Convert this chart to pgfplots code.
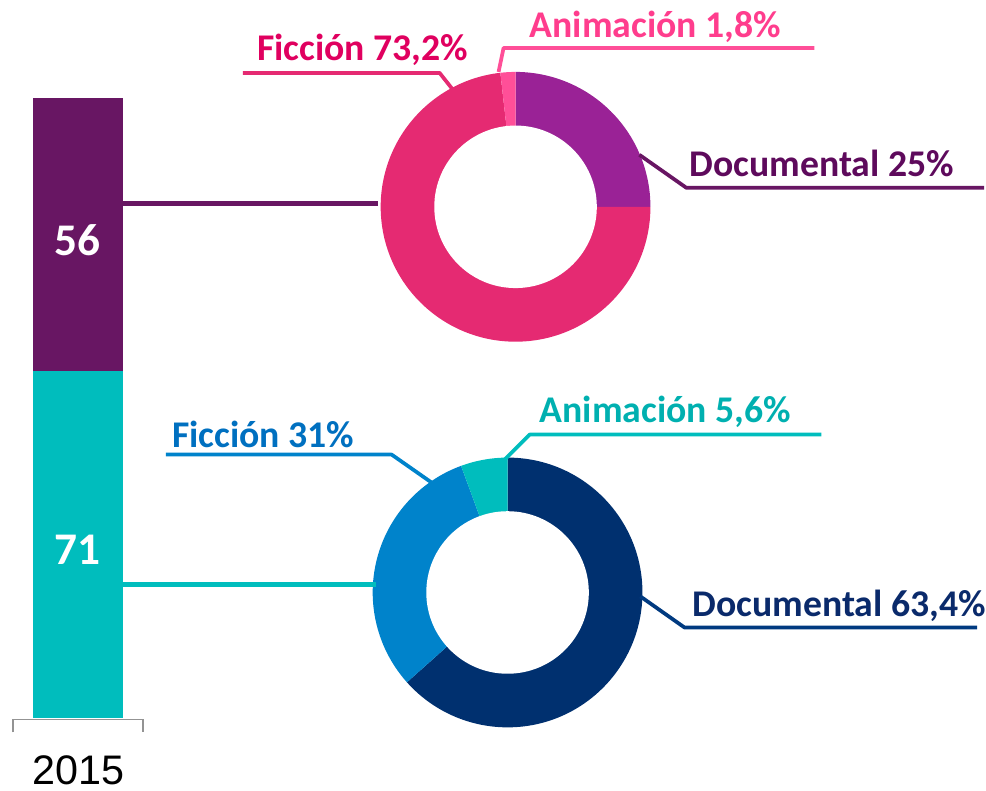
\documentclass[border=0pt]{standalone}
\usepackage{pgfplots}
\pgfplotsset{compat=1.18}
\usepackage{fontspec}
\setmainfont{Carlito}
\newfontfamily\arialfont{Liberation Sans}
\definecolor{barpurple}{HTML}{681663}
\definecolor{barteal}{HTML}{00BDBD}
\definecolor{tDoc}{HTML}{9A2296}
\definecolor{tFic}{HTML}{E52A72}
\definecolor{tAni}{HTML}{FF4F98}
\definecolor{tFicTxt}{HTML}{E0005F}
\definecolor{tAniTxt}{HTML}{FF3D8D}
\definecolor{tDocTxt}{HTML}{5E0A5C}
\definecolor{bDoc}{HTML}{00306F}
\definecolor{bFic}{HTML}{0083CB}
\definecolor{bAni}{HTML}{00BDBD}
\definecolor{bFicTxt}{HTML}{0070C0}
\definecolor{bAniTxt}{HTML}{00B0B0}
\definecolor{bDocTxt}{HTML}{0A2A6B}
\definecolor{bDocLine}{HTML}{003A80}
\newcommand\lab{\fontsize{28.3}{28.3}\selectfont\bfseries}
\begin{document}
\begin{tikzpicture}
% shares of each donut (percent)
\def\tD{25}\def\tF{73.2}\def\tA{1.8}
\def\bD{63.4}\def\bF{31}\def\bA{5.6}
\pgfmathsetmacro\ta{90}
\pgfmathsetmacro\tb{\ta-3.6*\tD}
\pgfmathsetmacro\tc{\tb-3.6*\tF}
\pgfmathsetmacro\td{\tc-3.6*\tA}
\pgfmathsetmacro\ba{90}
\pgfmathsetmacro\bb{\ba-3.6*\bD}
\pgfmathsetmacro\bc{\bb-3.6*\bF}
\pgfmathsetmacro\bd{\bc-3.6*\bA}
\def\Ro{101.25pt}
\def\Ri{61pt}
% stacked bar
\begin{axis}[x=0.75pt, y=3.66735pt, xmin=0, xmax=986, ymin=-14.724, ymax=147.04,
  hide axis, ybar stacked, bar width=90, clip=false]
\addplot[fill=barteal, draw=none] coordinates {(78,71)};
\addplot[fill=barpurple, draw=none] coordinates {(78,56)};
\end{axis}
% donuts and labels
\begin{axis}[x=0.75pt, y=0.75pt, xmin=0, xmax=986, ymin=0, ymax=791,
  hide axis, clip=false]
\path (axis cs:0,0) rectangle (axis cs:986,791);
\node[text=white, font=\fontsize{34}{34}\selectfont\bfseries] at (axis cs:78,551) {56};
\node[text=white, font=\fontsize{34}{34}\selectfont\bfseries] at (axis cs:78,241) {71};
% top donut
\fill[tDoc] (axis cs:516,584) -- ++(\ta:\Ro) arc[start angle=\ta, end angle=\tb, radius=\Ro] -- cycle;
\fill[tFic] (axis cs:516,584) -- ++(\tb:\Ro) arc[start angle=\tb, end angle=\tc, radius=\Ro] -- cycle;
\fill[tAni] (axis cs:516,584) -- ++(\tc:\Ro) arc[start angle=\tc, end angle=\td, radius=\Ro] -- cycle;
\fill[white] (axis cs:516,584) circle[radius=\Ri];
% bottom donut
\fill[bDoc] (axis cs:508,198) -- ++(\ba:\Ro) arc[start angle=\ba, end angle=\bb, radius=\Ro] -- cycle;
\fill[bFic] (axis cs:508,198) -- ++(\bb:\Ro) arc[start angle=\bb, end angle=\bc, radius=\Ro] -- cycle;
\fill[bAni] (axis cs:508,198) -- ++(\bc:\Ro) arc[start angle=\bc, end angle=\bd, radius=\Ro] -- cycle;
\fill[white] (axis cs:508,198) circle[radius=\Ri];
% connectors from bar
\draw[barpurple, line width=3.5pt] (axis cs:123,587) -- (axis cs:378,587);
\draw[barteal, line width=3.5pt] (axis cs:123,206) -- (axis cs:376,206);
% baseline bracket
\draw[gray!85, line width=1.3pt] (axis cs:13,58) -- (axis cs:13,71) -- (axis cs:143,71) -- (axis cs:143,58);
\node[anchor=base, inner sep=0pt, font=\arialfont\fontsize{31}{31}\selectfont] at (axis cs:79,6) {2015};
% label leaders
\draw[tFic, line width=2.8pt, line join=round] (axis cs:243,718) -- (axis cs:440,718) -- (axis cs:455,699);
\draw[tAni, line width=2.8pt, line join=round] (axis cs:815,743) -- (axis cs:504,743) -- (axis cs:499,719);
\draw[barpurple, line width=2.8pt, line join=round] (axis cs:985,603) -- (axis cs:687,603) -- (axis cs:640,636);
\draw[bFic, line width=2.8pt, line join=round] (axis cs:166,336) -- (axis cs:392,336) -- (axis cs:432,308);
\draw[bAni, line width=2.8pt, line join=round] (axis cs:822,356) -- (axis cs:530,356) -- (axis cs:505,331);
\draw[bDocLine, line width=2.8pt, line join=round] (axis cs:978,163) -- (axis cs:685,163) -- (axis cs:641,194);
% label texts
\node[anchor=base west, inner sep=0pt, text=tFicTxt, font=\lab] at (axis cs:257,730) {Ficción 73,2\%};
\node[anchor=base west, inner sep=0pt, text=tAniTxt, font=\lab] at (axis cs:530,753) {Animación 1,8\%};
\node[anchor=base west, inner sep=0pt, text=tDocTxt, font=\lab] at (axis cs:690,614) {Documental 25\%};
\node[anchor=base west, inner sep=0pt, text=bFicTxt, font=\lab] at (axis cs:172,343) {Ficción 31\%};
\node[anchor=base west, inner sep=0pt, text=bAniTxt, font=\lab] at (axis cs:540,368) {Animación 5,6\%};
\node[anchor=base west, inner sep=0pt, text=bDocTxt, font=\lab] at (axis cs:693,174) {Documental 63,4\%};
\end{axis}
\end{tikzpicture}
\end{document}
